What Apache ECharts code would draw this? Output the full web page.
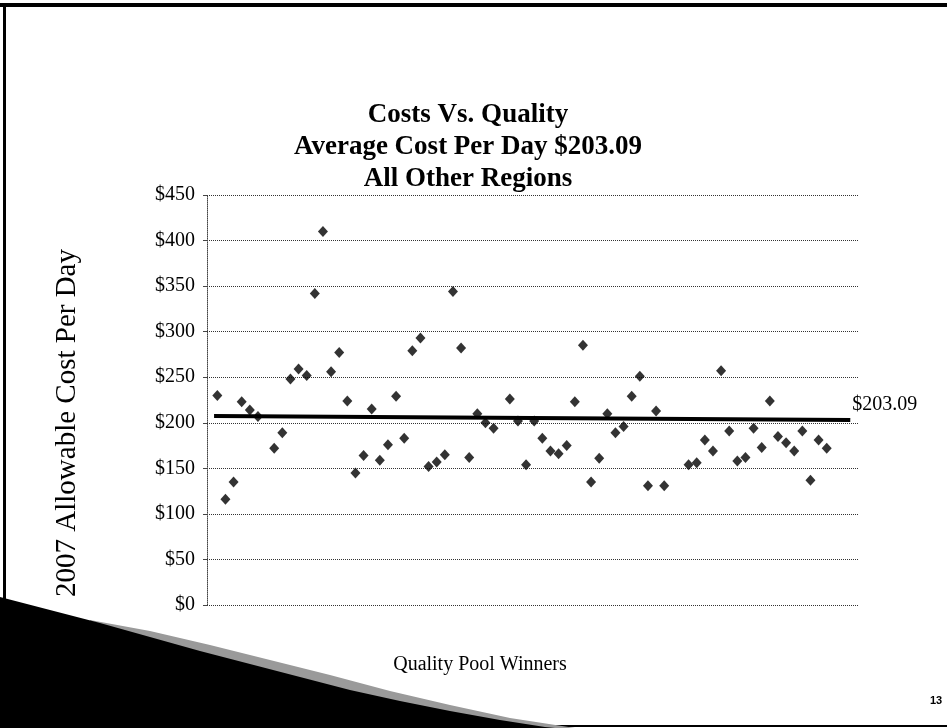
<!DOCTYPE html>
<html>
<head>
<meta charset="utf-8">
<title>Costs Vs. Quality</title>
<script src="https://cdn.jsdelivr.net/npm/echarts@6/dist/echarts.min.js"></script>
<style>
  html, body { margin: 0; padding: 0; background: #fff; }
  #chart { width: 947px; height: 728px; }
</style>
</head>
<body>
<div id="chart"></div>
<script>
// position of each quality pool winner along the x axis (a few slots are empty)
const poolIndex = [
  0, 1, 2, 3, 4, 5, 7, 8, 9, 10, 11, 12, 13, 14, 15, 16, 17, 18, 19, 20,
  21, 22, 23, 24, 25, 26, 27, 28, 29, 30, 31, 32, 33, 34, 36, 37, 38, 39, 40, 41,
  42, 43, 44, 45, 46, 47, 48, 49, 50, 51, 52, 53, 54, 55, 58, 59, 60, 61, 62, 63,
  64, 65, 66, 67, 68, 69, 70, 71, 72, 73, 74, 75
];
// 2007 allowable cost per day for each winner
const costPerDay = [
  230, 116, 135, 223, 214, 207, 172, 189, 248, 259, 252, 342, 410, 256, 277, 224, 145, 164, 215, 159,
  176, 229, 183, 279, 293, 152, 157, 165, 344, 282, 162, 210, 200, 194, 226, 202, 154, 202, 183, 169,
  166, 175, 223, 285, 135, 161, 210, 189, 196, 229, 251, 131, 213, 131, 154, 156, 181, 169, 257, 191,
  158, 162, 194, 173, 224, 185, 178, 169, 191, 137, 181, 172
];
const avgCost = 203.09;
const yTicks = [0, 50, 100, 150, 200, 250, 300, 350, 400, 450];

const serif = '"Liberation Serif", "Times New Roman", serif';

const chart = echarts.init(document.getElementById("chart"));

const option = {
  backgroundColor: "#fff",
  animation: false,
  title: [
    {
      text: "Costs Vs. Quality\nAverage Cost Per Day $203.09\nAll Other Regions",
      left: 463,
      top: 94,
      textAlign: "center",
      textStyle: { fontFamily: serif, fontWeight: "bold", fontSize: 27, lineHeight: 32, color: "#000" },
    },
    {
      text: "Quality Pool Winners",
      left: 475,
      top: 650,
      textAlign: "center",
      textStyle: { fontFamily: serif, fontWeight: "normal", fontSize: 20, color: "#000" },
    },
  ],
  grid: { left: 207, right: 89, top: 195, bottom: 123 },
  xAxis: {
    type: "value",
    min: -1.27,
    max: 78.85,
    show: false,
  },
  yAxis: {
    type: "value",
    min: yTicks[0],
    max: yTicks[yTicks.length - 1],
    interval: 50,
    axisLine: { show: true, onZero: false, lineStyle: { color: "#444", type: [1, 1] } },
    axisTick: { show: true, length: 4, lineStyle: { color: "#444" } },
    axisLabel: {
      margin: 12,
      fontFamily: serif,
      fontSize: 20,
      color: "#000",
      formatter: (v) => "$" + v,
    },
    splitLine: { show: true, lineStyle: { color: "#333", type: [1, 1], width: 1 } },
  },
  series: [
    {
      type: "scatter",
      data: poolIndex.map((x, i) => [x, costPerDay[i]]),
      symbol: "diamond",
      symbolSize: [10, 11],
      itemStyle: { color: "#000" },
      markLine: {
        silent: true,
        symbol: "none",
        lineStyle: { color: "#000", width: 4, type: "solid" },
        label: {
          show: true,
          position: "end",
          distance: 2,
          offset: [0, -15],
          formatter: "$203.09",
          fontFamily: serif,
          fontSize: 20,
          color: "#000",
        },
        data: [[{ coord: [-0.4, 207.5] }, { coord: [77.9, avgCost] }]],
      },
    },
  ],
  graphic: [
    // slide frame
    { type: "rect", shape: { x: 0, y: 3, width: 947, height: 4 }, style: { fill: "#000" } },
    { type: "rect", shape: { x: 3, y: 3, width: 3, height: 600 }, style: { fill: "#000" } },
    { type: "rect", shape: { x: 540, y: 725, width: 407, height: 2 }, style: { fill: "#000" } },
    // grey dither edge of the swoosh
    {
      type: "polygon",
      shape: {
        points: [
          [90, 620], [150, 631], [210, 645], [270, 660], [330, 675],
          [390, 691], [450, 705], [510, 718], [575, 728], [90, 728],
        ],
      },
      style: { fill: "#9a9a9a" },
    },
    // black swoosh
    {
      type: "polygon",
      shape: {
        points: [
          [0, 597], [50, 610], [100, 623], [150, 637], [200, 651], [250, 664],
          [300, 677], [350, 690], [400, 701], [450, 711], [500, 720], [545, 727],
          [555, 728], [0, 728],
        ],
      },
      style: { fill: "#000" },
    },
    // y axis title
    {
      type: "text",
      x: 67,
      y: 423,
      rotation: Math.PI / 2,
      style: {
        text: "2007 Allowable Cost Per Day",
        font: "29px " + serif,
        fill: "#000",
        align: "center",
        verticalAlign: "middle",
      },
    },
    // page number
    {
      type: "text",
      x: 936,
      y: 701,
      style: {
        text: "13",
        font: "bold 11px Arial, 'Liberation Sans', sans-serif",
        fill: "#000",
        align: "center",
        verticalAlign: "middle",
      },
    },
  ],
};

chart.setOption(option);
</script>
</body>
</html>
